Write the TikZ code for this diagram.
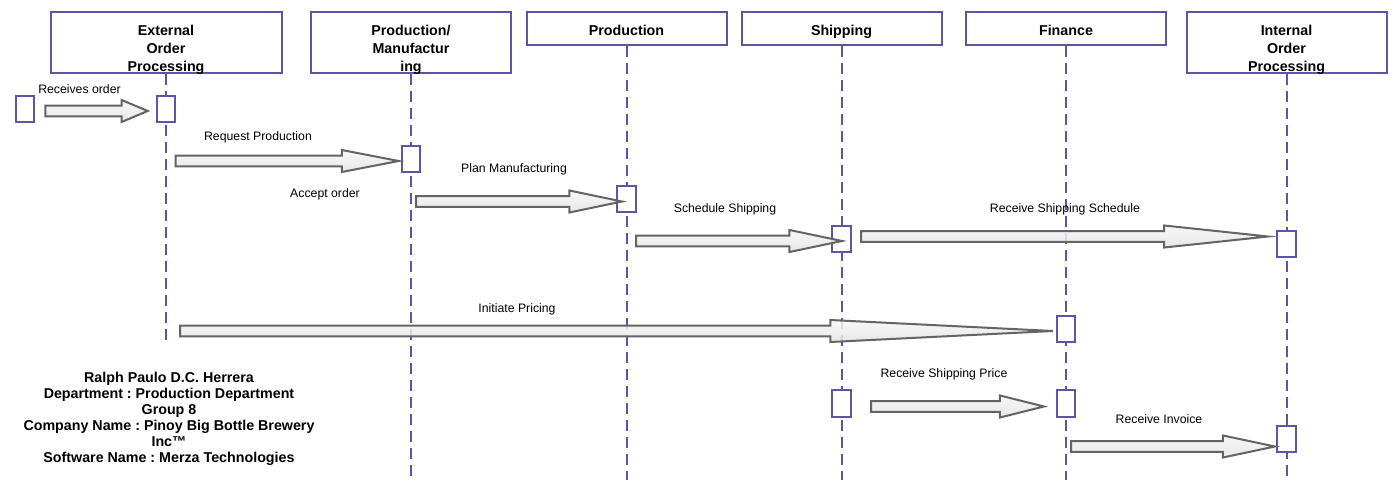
\documentclass[tikz,border=0pt]{standalone}
\usepackage{fontspec}
\setmainfont{Liberation Sans}
\frenchspacing
\usetikzlibrary{calc}
\definecolor{lanecol}{RGB}{92,86,168}
\definecolor{arrowline}{RGB}{100,100,100}
\tikzset{head node/.style={draw=lanecol,line width=1.5pt,fill=white,minimum width=150pt,minimum height=24.75pt,anchor=north,inner sep=0pt},
	head text/.style={align=center,inner sep=0pt,font=\fontsize{10.7}{13.5}\selectfont\bfseries},
	one line/.style={text height=7.7pt,text depth=0pt},
	act node/.style={draw=lanecol,line width=1.5pt,fill=white,minimum width=13.9pt,minimum height=19.9pt,inner sep=0pt},
	life line/.style={draw=lanecol,line width=1.5pt,dash pattern=on 8.25pt off 4.5pt},
	msg/.style={inner sep=0pt,yshift=-1.6pt,font=\fontsize{9.2}{11}\selectfont},
	big arrow/.style={draw=arrowline,line width=1.5pt,top color=gray!7,bottom color=gray!22,fill opacity=0.85,line join=miter},
}
\newcommand{\bigarrow}[2]{%
	\path[big arrow] let \p1=(#1),\p2=(#2),\n1={0.255*(\x2-\x1)} in
	(\x1,{\y1+4.1pt}) -- ({\x2-\n1},{\y1+4.1pt}) -- ({\x2-\n1},{\y1+8.25pt}) -- (\x2,\y1)
	-- ({\x2-\n1},{\y1-8.25pt}) -- ({\x2-\n1},{\y1-4.1pt}) -- (\x1,{\y1-4.1pt}) -- cycle;}

\begin{document}
\begin{tikzpicture}[x=0.75pt,y=-0.75pt]
	\useasboundingbox (0,0) rectangle (1395,495);
	% lanes
	\node[head node,minimum width=173.25pt,minimum height=45.75pt] (eop) at (166,11) {};
	\node[head node,minimum height=45.75pt] (pm) at (411,11) {};
	\node[head node] (prod) at (626.5,11) {};
	\node[head node] (ship) at (841.5,11) {};
	\node[head node] (fin) at (1066,11) {};
	\node[head node,minimum height=45.75pt] (iop) at (1286.5,11) {};
	\node[head text] at ($(eop.center)+(0,7.5)$) {External\\Order\\Processing};
	\node[head text] at ($(pm.center)+(0,7.5)$) {Production/\\Manufactur\\ing};
	\node[head text,one line] at ($(prod.center)+(0,1.5)$) {Production};
	\node[head text,one line] at ($(ship.center)+(0,1.5)$) {Shipping};
	\node[head text,one line] at ($(fin.center)+(0,1.5)$) {Finance};
	\node[head text] at ($(iop.center)+(0,7.5)$) {Internal\\Order\\Processing};
	
	\foreach \n/\e in {eop/340,pm/480,prod/480,ship/480,fin/480,iop/476}
	\draw[life line] (\n.south) -- (\n |- 0,\e);
	
	% activations
	\node[act node] (ext) at (25,109) {};
	\node[act node] (a eop) at (eop |- 0,109) {};
	\node[act node] (a pm) at (pm |- 0,159) {};
	\node[act node] (a prod) at (prod |- 0,199) {};
	\node[act node] (a ship1) at (ship |- 0,239) {};
	\node[act node] (a iop1) at (iop |- 0,244) {};
	\node[act node] (a fin1) at (fin |- 0,329) {};
	\node[act node] (a ship2) at (ship |- 0,403.5) {};
	\node[act node] (a fin2) at (fin |- 0,403.5) {};
	\node[act node] (a iop2) at (iop |- 0,439) {};
	
	% messages
	\coordinate (m1s) at ($(ext.east)+(10,2)$);
	\coordinate (m1t) at ($(a eop.west)+(-8,2)$);
	\coordinate (m2s) at (175.5,161);
	\coordinate (m2t) at ($(a pm.west)+(-2,2)$);
	\coordinate (m3s) at (416,201.5);
	\coordinate (m3t) at (622,201.5);
	\coordinate (m4s) at (636,241);
	\coordinate (m4t) at (842,241);
	\coordinate (m5s) at (861,236.5);
	\coordinate (m5t) at (1268,236.5);
	\coordinate (m6s) at (180,331);
	\coordinate (m6t) at (1053,331);
	\coordinate (m7s) at (871,406.5);
	\coordinate (m7t) at (1044,406.5);
	\coordinate (m8s) at (1071,446.5);
	\coordinate (m8t) at (1275,446.5);
	\foreach \i in {1,...,8}
	\bigarrow{m\i s}{m\i t};
	
	\node[msg] at (79.5,86.7) {Receives order};
	\node[msg] at (258,134.7) {Request Production};
	\node[msg] at (325,191.7) {Accept order};
	\node[msg] at (514,166.7) {Plan Manufacturing};
	\node[msg] at (725,206.7) {Schedule Shipping};
	\node[msg] at (1065,206.7) {Receive Shipping Schedule};
	\node[msg] at (517,306.7) {Initiate Pricing};
	\node[msg] at (944,371.7) {Receive Shipping Price};
	\node[msg] at (1159,416.7) {Receive Invoice};
	
	\node[align=center,inner sep=0pt,font=\fontsize{10.7}{12}\selectfont\bfseries] (info) at (169,419)
	{Ralph Paulo D.C. Herrera\\Department : Production Department\\Group 8\\Company Name : Pinoy Big Bottle Brewery\\Inc™\\Software Name : Merza Technologies};
\end{tikzpicture}
\end{document}
